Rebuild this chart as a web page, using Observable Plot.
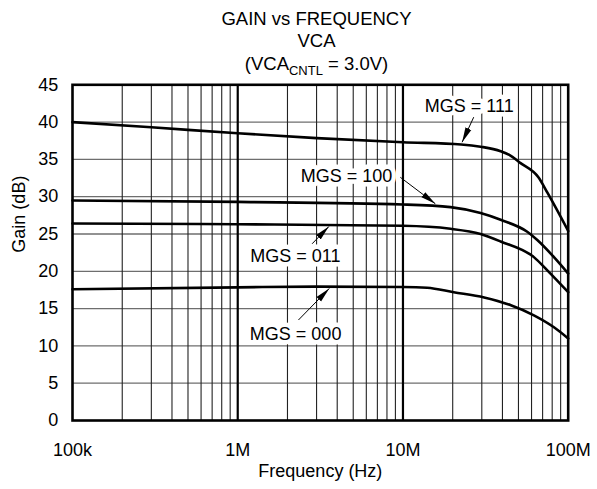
<!DOCTYPE html>
<html>
<head>
<meta charset="utf-8">
<script src="https://cdn.jsdelivr.net/npm/d3@7"></script>
<script src="https://cdn.jsdelivr.net/npm/@observablehq/plot@0.6"></script>
<style>
  html, body { margin: 0; padding: 0; background: #fff; }
  #wrap { position: relative; width: 597px; height: 489px; font-family: "Liberation Sans", Arial, sans-serif; color: #000; }
  .tl { position: absolute; left: 0; width: 633px; text-align: center; font-size: 18.5px; line-height: 22px; white-space: nowrap; z-index: 2; }
  .tl sub { font-size: 13px; vertical-align: -5px; line-height: 0; }
  #chart { position: absolute; left: 0; top: 66px; z-index: 1; }
</style>
</head>
<body>
<div id="wrap">
  <div id="chart"></div>
  <div class="tl" style="top:7.8px">GAIN vs FREQUENCY</div>
  <div class="tl" style="top:29.5px">VCA</div>
  <div class="tl" style="top:52.5px">(VCA<sub>CNTL</sub> = 3.0V)</div>
</div>
<script>
// ---- data ----
const freqTicks = [1e5, 1e6, 1e7, 1e8];
const freqTickLabels = ["100k", "1M", "10M", "100M"];
const gainTicks = [0, 5, 10, 15, 20, 25, 30, 35, 40, 45];

const mgs111F = [1e5, 3e5, 1e6, 3e6, 1e7, 2.25e7, 2.95e7, 3.9e7, 4.4e7, 5.15e7, 6.6e7, 7.5e7, 1e8];
const mgs111G = [40.0, 39.3, 38.5, 37.85, 37.3, 37.0, 36.7, 36.1, 35.6, 34.5, 32.6, 30.5, 25.4];

const mgs100F = [1e5, 1e6, 1e7, 1.94e7, 2.95e7, 3.9e7, 5.65e7, 6.5e7, 8.2e7, 1e8];
const mgs100G = [29.5, 29.3, 28.95, 28.6, 27.8, 26.9, 25.3, 24.2, 21.9, 19.7];

const mgs011F = [1e5, 1e6, 1e7, 1.94e7, 2.95e7, 3.9e7, 6.2e7, 7.5e7, 1e8];
const mgs011G = [26.4, 26.3, 26.1, 25.7, 25.0, 24.0, 21.9, 20.1, 17.2];

const mgs000F = [1e5, 1e6, 3e6, 1e7, 1.4e7, 2.03e7, 3.1e7, 4.5e7, 6.2e7, 8.2e7, 1e8];
const mgs000G = [17.6, 17.85, 17.95, 17.9, 17.8, 17.2, 16.5, 15.45, 14.1, 12.5, 11.0];

const seriesNames = ["111", "100", "011", "000"];

// annotation labels (data coordinates)
const labelText = ["MGS = 111", "MGS = 100", "MGS = 011", "MGS = 000"];
const labelF = [2.52e7, 4.55e6, 2.23e6, 2.24e6];
const labelG = [42.1, 32.8, 22.0, 11.63];
// arrows: tail -> head
const arrowF1 = [2.68e7, 9.64e6, 2.82e6, 2.33e6];
const arrowG1 = [40.66, 32.6, 23.69, 13.47];
const arrowF2 = [2.28e7, 1.57e7, 3.56e6, 3.58e6];
const arrowG2 = [37.3, 29.05, 26.0, 17.7];

// ---- build tables ----
const curveSets = [[mgs111F, mgs111G], [mgs100F, mgs100G], [mgs011F, mgs011G], [mgs000F, mgs000G]];
const curves = curveSets.flatMap(([F, G], i) => F.map((f, j) => ({f, g: G[j], mgs: seriesNames[i]})));
const labels = labelText.map((t, i) => ({t, f: labelF[i], g: labelG[i]}));
const arrows = labelText.map((t, i) => ({f1: arrowF1[i], g1: arrowG1[i], f2: arrowF2[i], g2: arrowG2[i]}));

const decades = [1e5, 1e6, 1e7];
const minorF = decades.flatMap(d => [2, 3, 4, 5, 6, 7, 8, 9].map(k => k * d));
const majorF = [1e6, 1e7];
const gridG = [5, 10, 15, 20, 25, 30, 35, 40];

function filledArrow(color) {
  const m = d3.create("svg:marker")
    .attr("viewBox", "-15 -4 16 8")
    .attr("markerWidth", 16).attr("markerHeight", 8)
    .attr("markerUnits", "userSpaceOnUse")
    .attr("orient", "auto")
    .attr("refX", 0).attr("refY", 0);
  m.append("path").attr("d", "M-15,-3.2L0,0L-15,3.2Z").attr("fill", color).attr("stroke", "none");
  return m.node();
}

let arrowMark;
try {
  arrowMark = Plot.link(arrows, {x1: "f1", y1: "g1", x2: "f2", y2: "g2", stroke: "#000", strokeWidth: 1, markerEnd: filledArrow});
} catch (e) {
  arrowMark = Plot.arrow(arrows, {x1: "f1", y1: "g1", x2: "f2", y2: "g2", stroke: "#000", strokeWidth: 1.2, headLength: 12, headAngle: 30});
}

const fmt = new Map(freqTicks.map((t, i) => [t, freqTickLabels[i]]));

const chart = Plot.plot({
  width: 597,
  height: 423,
  marginLeft: 72,
  marginRight: 29.3,
  marginTop: 18.3,
  marginBottom: 69,
  style: {fontFamily: "'Liberation Sans', Arial, sans-serif", fontSize: "18px", color: "#000", background: "transparent"},
  x: {type: "log", domain: [1e5, 1e8], ticks: freqTicks, tickFormat: d => fmt.get(d), tickSize: 0, tickPadding: 23, label: null},
  y: {domain: [0, 45], ticks: gainTicks, tickSize: 0, tickPadding: 14.3, label: null},
  marks: [
    Plot.ruleY(gridG, {stroke: "#6e6e6e", strokeWidth: 1.3}),
    Plot.ruleX(minorF, {stroke: "#222", strokeWidth: 1.1}),
    Plot.ruleX(majorF, {stroke: "#000", strokeWidth: 2.2}),
    Plot.line(curves, {x: "f", y: "g", z: "mgs", stroke: "#000", strokeWidth: 2.6, curve: "monotone-x"}),
    arrowMark,
    Plot.text(labels, {x: "f", y: "g", text: "t", fill: "#000", stroke: "#fff", strokeWidth: 9, strokeLinejoin: "round", fontSize: 18}),
    Plot.frame({stroke: "#000", strokeWidth: 2.6}),
    Plot.text(["Frequency (Hz)"], {frameAnchor: "bottom", dy: 56.2, text: d => d, fontSize: 18}),
    Plot.text(["Gain (dB)"], {frameAnchor: "left", dx: -52.8, rotate: -90, text: d => d, fontSize: 18})
  ]
});
document.getElementById("chart").appendChild(chart);
</script>
</body>
</html>
